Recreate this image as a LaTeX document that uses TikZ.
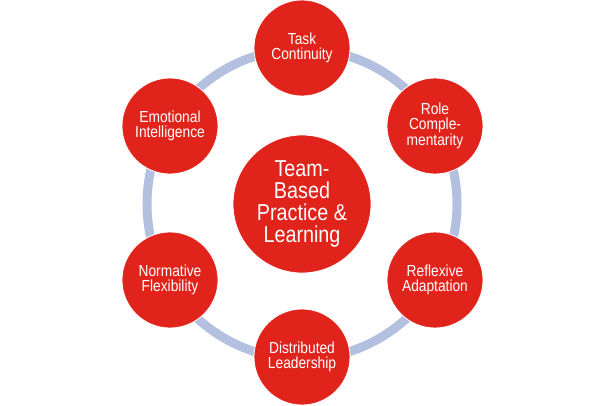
\documentclass[tikz,border=0pt]{standalone}
\usepackage{fontspec}
\setmainfont[FakeStretch=0.86]{Liberation Sans}
\definecolor{ringc}{RGB}{180,192,224}
\definecolor{redc}{RGB}{224,36,28}
\begin{document}
\begin{tikzpicture}[x=1pt,y=-1pt,
  outer/.style={circle,fill=redc,draw=white,line width=0.8pt,minimum size=96pt,inner sep=0pt,text=white,align=center,font=\fontsize{16}{14.5}\selectfont},
  center/.style={circle,fill=redc,draw=white,line width=0.8pt,minimum size=138pt,inner sep=0pt,text=white,align=center,font=\fontsize{23}{21.7}\selectfont}]
\useasboundingbox (0,0) rectangle (604,405);
\coordinate (o) at (302,204);
\draw[ringc,line width=9pt] (o) circle (155);
\node[center] (c) at (o) {Team-\\Based\\Practice \&\\Learning};
\node[outer] (t) at (302,48) {Task\\Continuity};
\node[outer] (r) at (435,126) {Role\\Comple-\\mentarity};
\node[outer] (ra) at (435,280) {Reflexive\\Adaptation};
\node[outer] (d) at (302,357) {Distributed\\Leadership};
\node[outer] (n) at (170,280) {Normative\\Flexibility};
\node[outer] (e) at (170,126) {Emotional\\Intelligence};
\end{tikzpicture}
\end{document}
